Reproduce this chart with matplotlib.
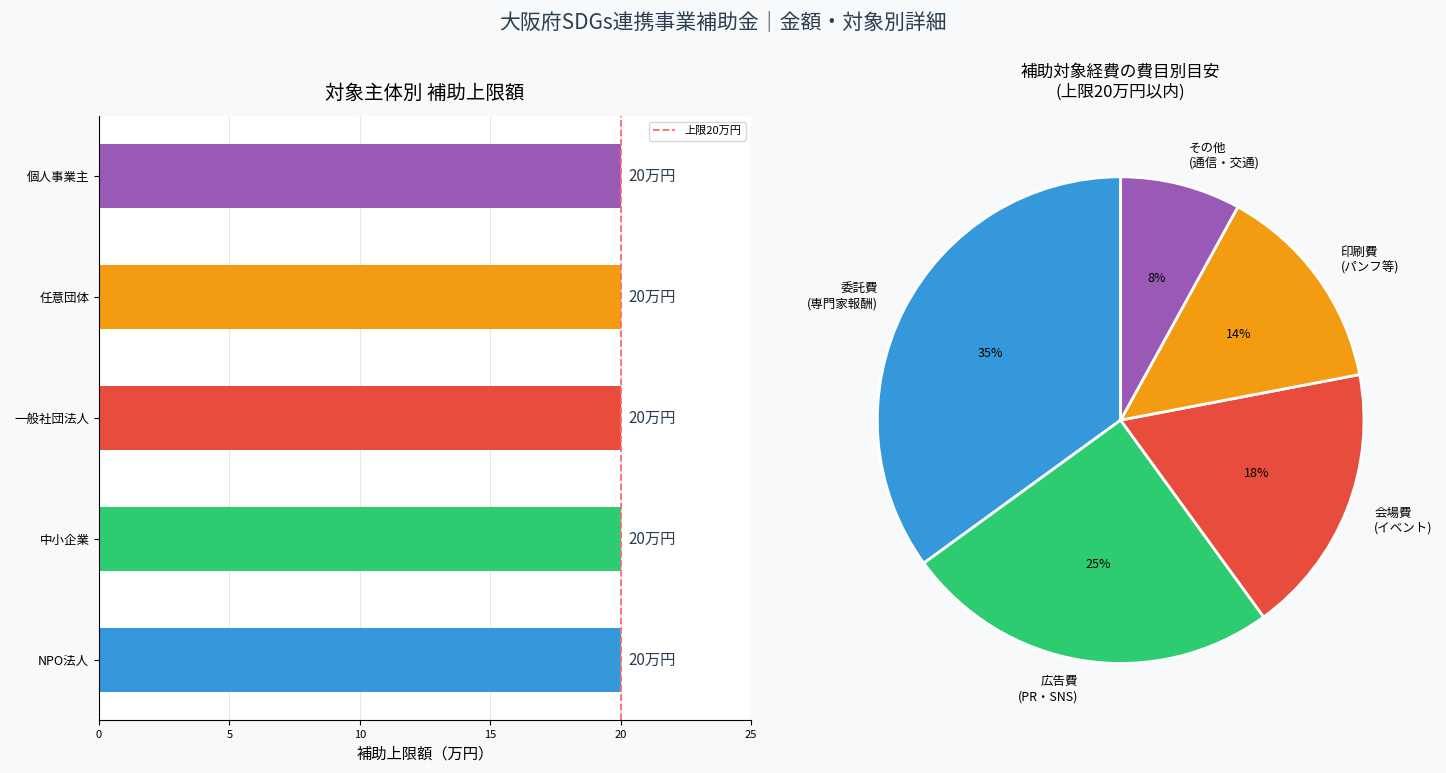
import matplotlib
matplotlib.use("Agg")
import matplotlib.pyplot as plt

plt.rcParams['font.family'] = ['Noto Sans CJK JP', 'DejaVu Sans']

# 左: 対象主体別 補助上限額
entities = ['NPO法人', '中小企業', '一般社団法人', '任意団体', '個人事業主']
limits = [20, 20, 20, 20, 20]
bar_colors = ['#3498db', '#2ecc71', '#e74c3c', '#f39c12', '#9b59b6']

# 右: 費目別目安
cost_labels = ['委託費\n(専門家報酬)', '広告費\n(PR・SNS)', '会場費\n(イベント)',
               '印刷費\n(パンフ等)', 'その他\n(通信・交通)']
cost_shares = [35, 25, 18, 14, 8]

fig = plt.figure(figsize=(14.46, 7.73), dpi=100, facecolor='#f8f9fa')
fig.suptitle('大阪府SDGs連携事業補助金｜金額・対象別詳細', fontsize=15, color='#2c3e50', y=0.985)

ax = fig.add_axes([0.0685, 0.068, 0.451, 0.782])
ax.barh(range(len(entities)), limits, height=0.53, color=bar_colors)
ax.set_yticks(range(len(entities)))
ax.set_yticklabels(entities, fontsize=9)
ax.set_xlim(0, 25)
ax.set_ylim(-0.5, 4.5)
ax.tick_params(axis='x', labelsize=8)
ax.axvline(20, color='#ff6b6b', linestyle='--', linewidth=1.3, label='上限20万円')
for i, v in enumerate(limits):
    ax.text(v + 0.3, i, f'{v}万円', va='center', fontsize=11, color='#2c3e50')
ax.set_xlabel('補助上限額（万円）', fontsize=11)
ax.set_title('対象主体別 補助上限額', fontsize=14, pad=12)
ax.grid(axis='x', alpha=0.3)
ax.set_axisbelow(True)
ax.spines['top'].set_visible(False)
ax.spines['right'].set_visible(False)
ax.legend(loc='upper right', fontsize=8)

ax2 = fig.add_axes([0.555, 0.063, 0.44, 0.787])
ax2.pie(cost_shares, labels=cost_labels, colors=bar_colors, autopct='%d%%',
        startangle=90, wedgeprops=dict(edgecolor='white', linewidth=2),
        textprops=dict(fontsize=9), labeldistance=1.12)
ax2.set_aspect('equal')
ax2.set_title('補助対象経費の費目別目安\n(上限20万円以内)', fontsize=12, pad=14)

fig.savefig('out.png', dpi=100, facecolor=fig.get_facecolor())
